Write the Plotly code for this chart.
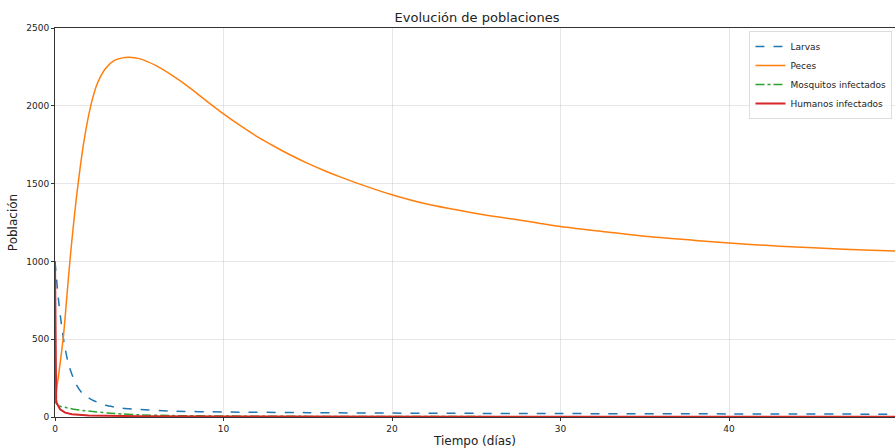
import plotly.graph_objects as go

# Data
t_larvas = [0, 0.2, 0.4, 0.55, 0.8, 1.2, 1.6, 2.2, 3, 4, 5, 7, 10, 15, 20, 30, 40, 50]
larvas = [1000, 760, 580, 470, 340, 220, 155, 110, 75, 57, 48, 38, 32, 28, 25, 22, 20, 18]

t_peces = [0, 0.25, 0.5, 0.7, 0.9, 1.1, 1.35, 1.7, 2.1, 2.5, 3.0, 3.5, 4.0, 4.4, 5, 6, 7, 8, 9, 10, 11, 12,
           13, 14, 15, 16, 17, 18, 20, 22, 25, 28, 30, 33, 35, 38, 40, 43, 45, 48, 50]
peces = [100, 300, 520, 770, 1020, 1240, 1480, 1760, 1990, 2140, 2240, 2290, 2308, 2312, 2303, 2258, 2192,
         2115, 2030, 1948, 1872, 1802, 1740, 1682, 1630, 1583, 1540, 1500, 1428, 1370, 1308, 1258,
         1224, 1186, 1162, 1135, 1118, 1098, 1087, 1073, 1066]

t_mosq = [0, 0.2, 0.6, 1.1, 1.8, 2.1, 3.1, 4, 5, 7, 10, 15, 20, 30, 40, 50]
mosquitos = [100, 72, 62, 50, 40, 37, 26, 19, 14, 9, 6, 4, 3, 2, 2, 2]

t_hum = [0, 0.01, 0.02, 0.04, 0.07, 0.1, 0.2, 0.3, 0.6, 1, 2, 3, 5, 10, 20, 30, 40, 50]
humanos = [1000, 750, 450, 200, 110, 90, 65, 50, 28, 18, 10, 7, 5, 3, 2, 1, 1, 1]

x_ticks = [0, 10, 20, 30, 40]
y_ticks = [0, 500, 1000, 1500, 2000, 2500]

fig = go.Figure()
fig.add_trace(go.Scatter(x=t_larvas, y=larvas, mode="lines", name="Larvas",
                         line=dict(color="#1f77b4", width=1.5, dash="dash", shape="spline", smoothing=0.6)))
fig.add_trace(go.Scatter(x=t_peces, y=peces, mode="lines", name="Peces",
                         line=dict(color="#ff7f0e", width=1.5, shape="spline", smoothing=0.9)))
fig.add_trace(go.Scatter(x=t_mosq, y=mosquitos, mode="lines", name="Mosquitos infectados",
                         line=dict(color="#2ca02c", width=1.5, dash="dashdot", shape="spline", smoothing=0.5)))
fig.add_trace(go.Scatter(x=t_hum, y=humanos, mode="lines", name="Humanos infectados",
                         line=dict(color="#d62728", width=2)))

axis_common = dict(showline=True, linecolor="#333333", linewidth=1, mirror=True,
                   showgrid=True, gridcolor="rgba(200,200,200,0.45)", gridwidth=1,
                   ticks="outside", ticklen=3, tickcolor="#333333", zeroline=False,
                   tickfont=dict(family="DejaVu Sans", size=9, color="#222222"))

fig.update_layout(
    width=895, height=448,
    margin=dict(l=55, r=0, t=28, b=31),
    paper_bgcolor="white", plot_bgcolor="white",
    title=dict(text="Evolución de poblaciones", x=0.533, xanchor="center", y=0.96, yanchor="middle",
               font=dict(family="DejaVu Sans", size=13, color="#222222")),
    xaxis=dict(range=[0, 49.85], tickvals=x_ticks,
               title=dict(text="Tiempo (días)", standoff=4,
                          font=dict(family="DejaVu Sans", size=12, color="#222222")),
               **axis_common),
    yaxis=dict(range=[0, 2500], tickvals=y_ticks,
               title=dict(text="Población", standoff=6,
                          font=dict(family="DejaVu Sans", size=12, color="#222222")),
               **axis_common),
    legend=dict(x=0.997, y=0.992, xanchor="right", yanchor="top",
                bgcolor="rgba(255,255,255,0.8)", bordercolor="#dddddd", borderwidth=1,
                font=dict(family="DejaVu Sans", size=9, color="#222222"),
                itemwidth=30, tracegroupgap=0),
    showlegend=True,
)

fig.write_html("out.html")
